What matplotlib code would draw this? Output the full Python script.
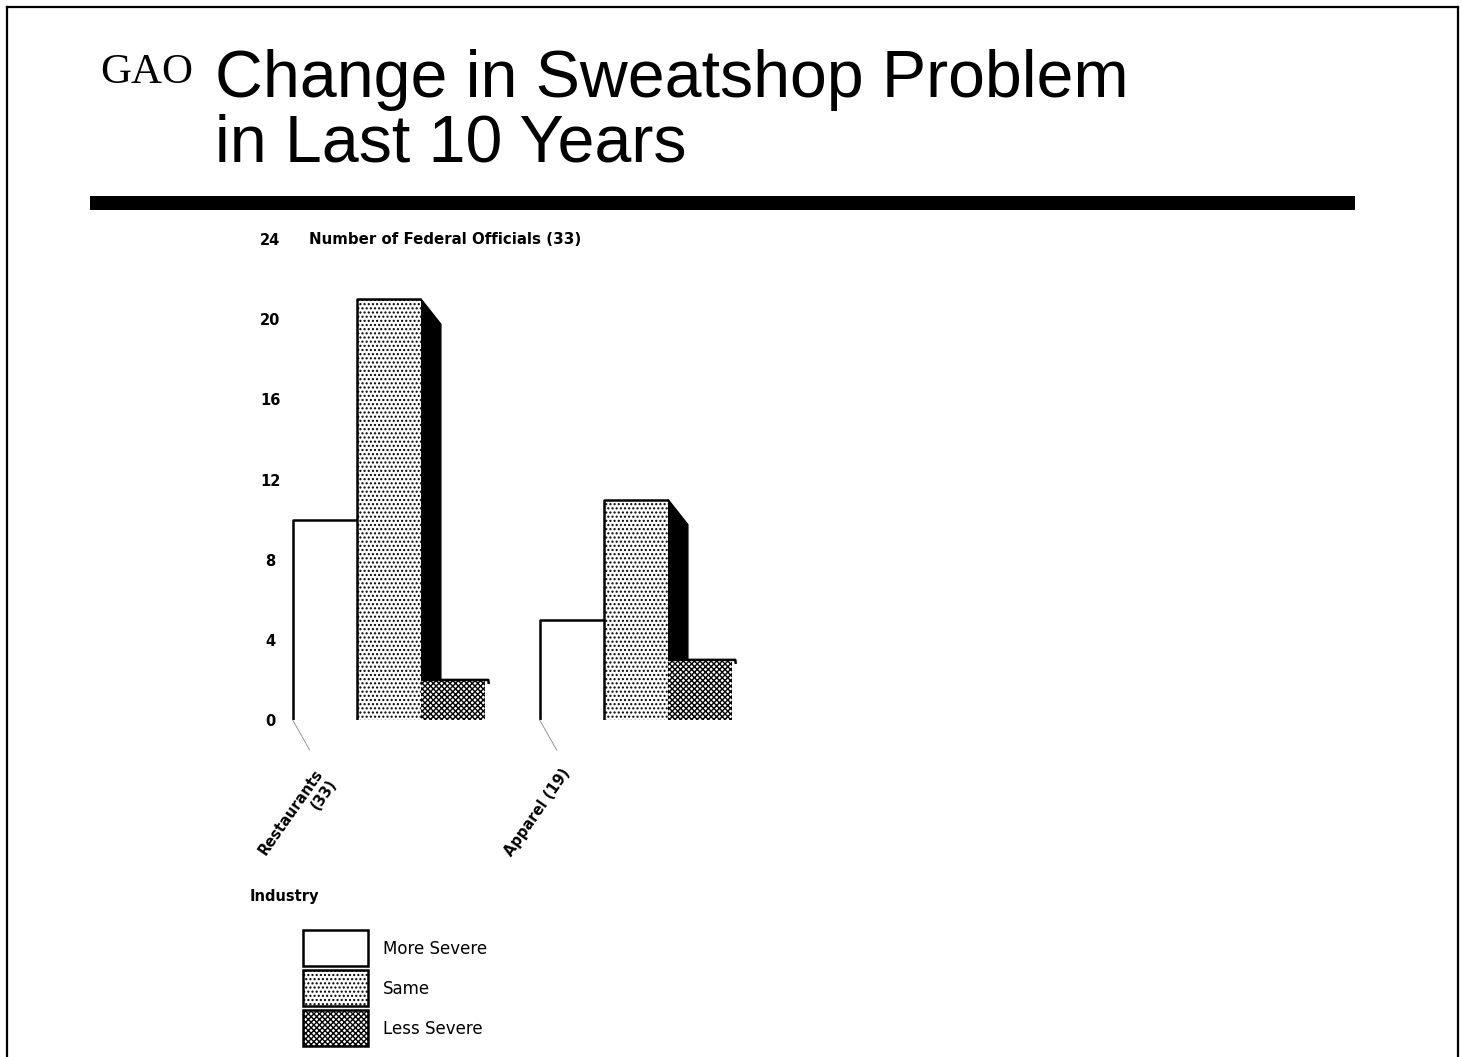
import numpy as np
import matplotlib.pyplot as plt
from matplotlib.patches import Polygon, Rectangle
from matplotlib.lines import Line2D

# datos
industrias = ['Restaurants\n(33)', 'Apparel (19)']
respuestas = ['More Severe', 'Same', 'Less Severe']
mas_severo = [10, 5]
igual = [21, 11]
menos_severo = [2, 3]
marcas_y = [0, 4, 8, 12, 16, 20, 24]

W, H = 1463, 1057
plt.rcParams['font.family'] = ['DejaVu Sans']
plt.rcParams['hatch.linewidth'] = 1.0

fig = plt.figure(figsize=(W / 100, H / 100), dpi=100)


def px(x, y):
    return x / W, 1 - y / H


# marco de la pagina y regla gruesa
for xs, ys in [((7, 7), (7, H)), ((7, 1458), (7, 7)), ((1458, 1458), (7, H))]:
    fig.add_artist(Line2D([x / W for x in xs], [1 - y / H for y in ys],
                          transform=fig.transFigure, color='black', lw=1.6))
fig.add_artist(Rectangle(px(90, 210), 1265 / W, 14 / H, transform=fig.transFigure,
                         facecolor='black', edgecolor='none'))

# titulo
fig.text(*px(100, 83), 'GAO', family='Liberation Serif', fontsize=31, va='baseline')
fig.text(*px(215, 97), 'Change in Sweatshop Problem', family='Liberation Sans',
         fontsize=47.7, va='baseline')
fig.text(*px(215, 162), 'in Last 10 Years', family='Liberation Sans',
         fontsize=47.7, va='baseline')

# ejes
ax = fig.add_axes([290 / W, 1 - 720 / H, 1060 / W, 481 / H])
ax.set_xlim(-0.4008, 3.8907)
ax.set_ylim(0, 24)
for s in ax.spines.values():
    s.set_visible(False)
ax.set_xticks([])
ax.set_yticks(marcas_y)
ax.tick_params(axis='y', length=0, pad=14.4, labelsize=10.5)
for t in ax.get_yticklabels():
    t.set_fontweight('bold')
    t.set_ha('center')

fig.text(*px(309, 239), 'Number of Federal Officials (33)', fontsize=10.8,
         fontweight='bold', va='center')

pos = np.arange(len(industrias))
ancho = 0.26
prof_x, prof_y = 0.08, 1.25

estilos = [dict(facecolor='white', hatch=None),
           dict(facecolor='white', hatch='....'),
           dict(facecolor='white', hatch='xxxxxx')]
series = [mas_severo, igual, menos_severo]

for i, (vals, est) in enumerate(zip(series, estilos)):
    xs = pos + (i - 1) * ancho
    ax.bar(xs, vals, width=ancho, edgecolor='black', linewidth=0,
           zorder=2 + i, **est)
    for x, v in zip(xs, vals):
        izq, der = x - ancho / 2, x + ancho / 2
        # contorno izquierdo y superior
        if i == 2:
            ax.plot([izq, der + 0.012, der + 0.014], [v, v, v - 0.2], color='black',
                    lw=1.8, zorder=2 + i, solid_capstyle='butt')
        else:
            ax.plot([izq, izq, der], [0, v, v], color='black', lw=1.8, zorder=2 + i,
                    solid_capstyle='butt')
        # cara lateral (efecto 3D)
        if i == 1:
            ax.add_patch(Polygon([(der, v), (der + prof_x, v - prof_y),
                                  (der + prof_x, 0), (der, 0)],
                                 facecolor='black', edgecolor='black', zorder=2.5))

# lineas guia y etiquetas de categoria
for p, nombre in zip(pos, industrias):
    izq = p - 1.5 * ancho
    ax.plot([izq, izq + 0.069], [0, -1.5], color='#888888', lw=0.6, clip_on=False)
    ax.text(izq + 0.085, -2.3, nombre, rotation=55, rotation_mode='anchor',
            ha='right', va='top', multialignment='right', fontsize=10.5,
            fontweight='bold', clip_on=False)

fig.text(*px(250, 897), 'Industry', fontsize=10.5, fontweight='bold', va='center')

# leyenda
for k, (nombre, est) in enumerate(zip(respuestas, estilos)):
    y0 = 930 + 40 * k
    fig.add_artist(Rectangle(px(303, y0 + 36), 65 / W, 36 / H, transform=fig.transFigure,
                             edgecolor='black', linewidth=1.8, **est))
    fig.text(*px(383, y0 + 19), nombre, fontsize=12, va='center')

fig.savefig('out.png', dpi=100)
